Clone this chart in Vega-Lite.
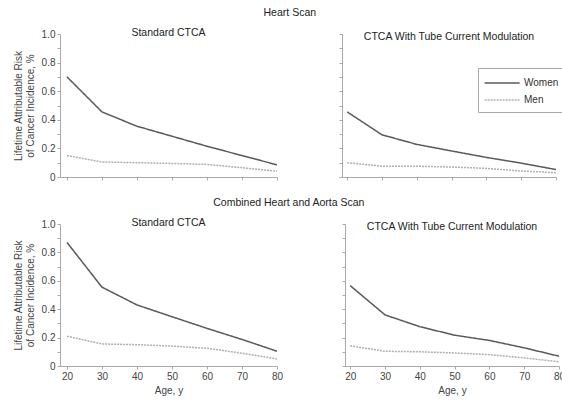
{
  "$schema": "https://vega.github.io/schema/vega-lite/v6.json",
  "padding": {"left": 13, "top": 8, "right": 2, "bottom": 2},
  "background": "white",
  "datasets": {
    "risk": [
      {"scan": "Heart", "method": "Standard", "sex": "Women", "age": 20, "risk": 0.70},
      {"scan": "Heart", "method": "Standard", "sex": "Women", "age": 30, "risk": 0.455},
      {"scan": "Heart", "method": "Standard", "sex": "Women", "age": 40, "risk": 0.355},
      {"scan": "Heart", "method": "Standard", "sex": "Women", "age": 50, "risk": 0.285},
      {"scan": "Heart", "method": "Standard", "sex": "Women", "age": 60, "risk": 0.215},
      {"scan": "Heart", "method": "Standard", "sex": "Women", "age": 70, "risk": 0.15},
      {"scan": "Heart", "method": "Standard", "sex": "Women", "age": 80, "risk": 0.085},
      {"scan": "Heart", "method": "Standard", "sex": "Men", "age": 20, "risk": 0.15},
      {"scan": "Heart", "method": "Standard", "sex": "Men", "age": 30, "risk": 0.105},
      {"scan": "Heart", "method": "Standard", "sex": "Men", "age": 40, "risk": 0.10},
      {"scan": "Heart", "method": "Standard", "sex": "Men", "age": 50, "risk": 0.095},
      {"scan": "Heart", "method": "Standard", "sex": "Men", "age": 60, "risk": 0.088},
      {"scan": "Heart", "method": "Standard", "sex": "Men", "age": 70, "risk": 0.065},
      {"scan": "Heart", "method": "Standard", "sex": "Men", "age": 80, "risk": 0.04},
      {"scan": "Heart", "method": "TCM", "sex": "Women", "age": 20, "risk": 0.455},
      {"scan": "Heart", "method": "TCM", "sex": "Women", "age": 30, "risk": 0.295},
      {"scan": "Heart", "method": "TCM", "sex": "Women", "age": 40, "risk": 0.228},
      {"scan": "Heart", "method": "TCM", "sex": "Women", "age": 50, "risk": 0.182},
      {"scan": "Heart", "method": "TCM", "sex": "Women", "age": 60, "risk": 0.137},
      {"scan": "Heart", "method": "TCM", "sex": "Women", "age": 70, "risk": 0.097},
      {"scan": "Heart", "method": "TCM", "sex": "Women", "age": 80, "risk": 0.052},
      {"scan": "Heart", "method": "TCM", "sex": "Men", "age": 20, "risk": 0.10},
      {"scan": "Heart", "method": "TCM", "sex": "Men", "age": 30, "risk": 0.076},
      {"scan": "Heart", "method": "TCM", "sex": "Men", "age": 40, "risk": 0.075},
      {"scan": "Heart", "method": "TCM", "sex": "Men", "age": 50, "risk": 0.07},
      {"scan": "Heart", "method": "TCM", "sex": "Men", "age": 60, "risk": 0.06},
      {"scan": "Heart", "method": "TCM", "sex": "Men", "age": 70, "risk": 0.042},
      {"scan": "Heart", "method": "TCM", "sex": "Men", "age": 80, "risk": 0.03},
      {"scan": "HeartAorta", "method": "Standard", "sex": "Women", "age": 20, "risk": 0.87},
      {"scan": "HeartAorta", "method": "Standard", "sex": "Women", "age": 30, "risk": 0.555},
      {"scan": "HeartAorta", "method": "Standard", "sex": "Women", "age": 40, "risk": 0.43},
      {"scan": "HeartAorta", "method": "Standard", "sex": "Women", "age": 50, "risk": 0.347},
      {"scan": "HeartAorta", "method": "Standard", "sex": "Women", "age": 60, "risk": 0.265},
      {"scan": "HeartAorta", "method": "Standard", "sex": "Women", "age": 70, "risk": 0.187},
      {"scan": "HeartAorta", "method": "Standard", "sex": "Women", "age": 80, "risk": 0.104},
      {"scan": "HeartAorta", "method": "Standard", "sex": "Men", "age": 20, "risk": 0.21},
      {"scan": "HeartAorta", "method": "Standard", "sex": "Men", "age": 30, "risk": 0.155},
      {"scan": "HeartAorta", "method": "Standard", "sex": "Men", "age": 40, "risk": 0.15},
      {"scan": "HeartAorta", "method": "Standard", "sex": "Men", "age": 50, "risk": 0.14},
      {"scan": "HeartAorta", "method": "Standard", "sex": "Men", "age": 60, "risk": 0.125},
      {"scan": "HeartAorta", "method": "Standard", "sex": "Men", "age": 70, "risk": 0.09},
      {"scan": "HeartAorta", "method": "Standard", "sex": "Men", "age": 80, "risk": 0.05},
      {"scan": "HeartAorta", "method": "TCM", "sex": "Women", "age": 20, "risk": 0.566},
      {"scan": "HeartAorta", "method": "TCM", "sex": "Women", "age": 30, "risk": 0.36},
      {"scan": "HeartAorta", "method": "TCM", "sex": "Women", "age": 40, "risk": 0.277},
      {"scan": "HeartAorta", "method": "TCM", "sex": "Women", "age": 50, "risk": 0.217},
      {"scan": "HeartAorta", "method": "TCM", "sex": "Women", "age": 60, "risk": 0.18},
      {"scan": "HeartAorta", "method": "TCM", "sex": "Women", "age": 70, "risk": 0.128},
      {"scan": "HeartAorta", "method": "TCM", "sex": "Women", "age": 80, "risk": 0.069},
      {"scan": "HeartAorta", "method": "TCM", "sex": "Men", "age": 20, "risk": 0.142},
      {"scan": "HeartAorta", "method": "TCM", "sex": "Men", "age": 30, "risk": 0.104},
      {"scan": "HeartAorta", "method": "TCM", "sex": "Men", "age": 40, "risk": 0.1},
      {"scan": "HeartAorta", "method": "TCM", "sex": "Men", "age": 50, "risk": 0.092},
      {"scan": "HeartAorta", "method": "TCM", "sex": "Men", "age": 60, "risk": 0.08},
      {"scan": "HeartAorta", "method": "TCM", "sex": "Men", "age": 70, "risk": 0.057},
      {"scan": "HeartAorta", "method": "TCM", "sex": "Men", "age": 80, "risk": 0.03}
    ]
  },
  "data": {"name": "risk"},
  "spacing": 16,
  "resolve": {"legend": {"color": "independent", "strokeDash": "independent"}},
  "vconcat": [
    {
      "title": {"text": "Heart  Scan", "fontSize": 10.5, "offset": 9},
      "spacing": 58,
      "resolve": {"legend": {"color": "independent", "strokeDash": "independent"}},
      "hconcat": [
        {
          "width": 217, "height": 143,
          "title": "Standard CTCA",
          "transform": [{"filter": "datum.scan == 'Heart' && datum.method == 'Standard'"}],
          "mark": {"type": "line", "strokeWidth": 1.5},
          "encoding": {
            "x": {"field": "age", "type": "quantitative", "scale": {"domain": [18, 80], "nice": false, "zero": false},
                  "axis": {"values": [20, 30, 40, 50, 60, 70, 80], "labels": false, "title": null}},
            "y": {"field": "risk", "type": "quantitative", "scale": {"domain": [0, 1]},
                  "axis": {"values": [0, 0.1, 0.2, 0.3, 0.4, 0.5, 0.6, 0.7, 0.8, 0.9, 1.0],
                           "labelExpr": "datum.value == 0 ? '0' : (round(datum.value * 10) % 2 == 0 ? format(datum.value, '.1f') : '')",
                           "title": ["Lifetime Attributable Risk", "of Cancer Incidence, %"]}},
            "color": {"field": "sex", "type": "nominal", "scale": {"domain": ["Women", "Men"], "range": ["#595959", "#b0b0b0"]}, "legend": null},
            "strokeDash": {"field": "sex", "type": "nominal", "scale": {"domain": ["Women", "Men"], "range": [[1, 0], [2, 1]]}, "legend": null}
          }
        },
        {
          "width": 214, "height": 143,
          "title": "CTCA With Tube Current Modulation",
          "transform": [{"filter": "datum.scan == 'Heart' && datum.method == 'TCM'"}],
          "mark": {"type": "line", "strokeWidth": 1.5},
          "encoding": {
            "x": {"field": "age", "type": "quantitative", "scale": {"domain": [18.5, 80], "nice": false, "zero": false},
                  "axis": {"values": [20, 30, 40, 50, 60, 70, 80], "labels": false, "title": null}},
            "y": {"field": "risk", "type": "quantitative", "scale": {"domain": [0, 1]},
                  "axis": {"values": [0, 0.1, 0.2, 0.3, 0.4, 0.5, 0.6, 0.7, 0.8, 0.9, 1.0], "labels": false, "title": null}},
            "color": {"field": "sex", "type": "nominal", "scale": {"domain": ["Women", "Men"], "range": ["#595959", "#b0b0b0"]},
                      "legend": {"title": null, "orient": "none", "legendX": 136, "legendY": 34, "symbolType": "M-1.2,0H3.8", "symbolSize": 196, "symbolStrokeWidth": 1.5, "labelOffset": 23, "labelFontSize": 10, "labelColor": "#333", "strokeColor": "#aaa", "padding": 7, "rowPadding": 4}},
            "strokeDash": {"field": "sex", "type": "nominal", "scale": {"domain": ["Women", "Men"], "range": [[1, 0], [2, 1]]},
                           "legend": {"title": null, "orient": "none", "legendX": 136, "legendY": 34, "symbolType": "M-1.2,0H3.8", "symbolSize": 196, "symbolStrokeWidth": 1.5, "labelOffset": 23, "labelFontSize": 10, "labelColor": "#333", "strokeColor": "#aaa", "padding": 7, "rowPadding": 4}}
          }
        }
      ]
    },
    {
      "title": {"text": "Combined Heart and Aorta Scan", "fontSize": 10.5, "offset": 9},
      "spacing": 58,
      "resolve": {"legend": {"color": "independent", "strokeDash": "independent"}},
      "hconcat": [
        {
          "width": 217, "height": 142,
          "title": "Standard CTCA",
          "transform": [{"filter": "datum.scan == 'HeartAorta' && datum.method == 'Standard'"}],
          "mark": {"type": "line", "strokeWidth": 1.5},
          "encoding": {
            "x": {"field": "age", "type": "quantitative", "scale": {"domain": [18, 80], "nice": false, "zero": false},
                  "axis": {"values": [20, 30, 40, 50, 60, 70, 80], "title": "Age, y"}},
            "y": {"field": "risk", "type": "quantitative", "scale": {"domain": [0, 1]},
                  "axis": {"values": [0, 0.1, 0.2, 0.3, 0.4, 0.5, 0.6, 0.7, 0.8, 0.9, 1.0],
                           "labelExpr": "datum.value == 0 ? '0' : (round(datum.value * 10) % 2 == 0 ? format(datum.value, '.1f') : '')",
                           "title": ["Lifetime Attributable Risk", "of Cancer Incidence, %"]}},
            "color": {"field": "sex", "type": "nominal", "scale": {"domain": ["Women", "Men"], "range": ["#595959", "#b0b0b0"]}, "legend": null},
            "strokeDash": {"field": "sex", "type": "nominal", "scale": {"domain": ["Women", "Men"], "range": [[1, 0], [2, 1]]}, "legend": null}
          }
        },
        {
          "width": 214, "height": 142,
          "title": "CTCA With Tube Current Modulation",
          "transform": [{"filter": "datum.scan == 'HeartAorta' && datum.method == 'TCM'"}],
          "mark": {"type": "line", "strokeWidth": 1.5},
          "encoding": {
            "x": {"field": "age", "type": "quantitative", "scale": {"domain": [18.5, 80], "nice": false, "zero": false},
                  "axis": {"values": [20, 30, 40, 50, 60, 70, 80], "title": "Age, y"}},
            "y": {"field": "risk", "type": "quantitative", "scale": {"domain": [0, 1]},
                  "axis": {"values": [0, 0.1, 0.2, 0.3, 0.4, 0.5, 0.6, 0.7, 0.8, 0.9, 1.0], "labels": false, "title": null}},
            "color": {"field": "sex", "type": "nominal", "scale": {"domain": ["Women", "Men"], "range": ["#595959", "#b0b0b0"]}, "legend": null},
            "strokeDash": {"field": "sex", "type": "nominal", "scale": {"domain": ["Women", "Men"], "range": [[1, 0], [2, 1]]}, "legend": null}
          }
        }
      ]
    }
  ],
  "config": {
    "font": "Liberation Sans",
    "view": {"stroke": null},
    "title": {"fontSize": 10.5, "fontWeight": "normal", "color": "#222", "offset": -9, "anchor": "middle"},
    "axis": {"grid": false, "domainColor": "#aaa", "tickColor": "#aaa", "tickSize": 3, "labelColor": "#444", "labelFontSize": 10, "labelPadding": 2,
             "titleFontSize": 10, "titleFontWeight": "normal", "titleColor": "#444", "labelFlush": false},
    "axisY": {"titlePadding": 6, "titleLineHeight": 12},
    "axisX": {"titlePadding": 4}
  }
}
